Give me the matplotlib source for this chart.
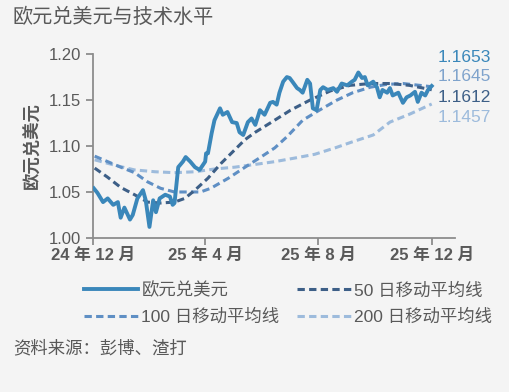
import matplotlib
matplotlib.use("Agg")
import matplotlib.pyplot as plt
import numpy as np

############
# DATA
############

# EUR/USD, day offsets from 2024-12-01
eur_days = [1, 5, 11, 16, 22, 27, 30, 34, 40, 43, 48, 54, 57, 61, 65, 68, 72, 78, 83, 86,
            88, 92, 97, 100, 105, 110, 115, 121, 122, 124, 128, 131, 137, 140, 145, 150, 155, 158, 162, 167,
            171, 175, 180, 185, 191, 194, 198, 201, 205, 209, 212, 215, 220, 223, 226, 231, 234, 237, 241, 245,
            248, 253, 259, 263, 268, 274, 279, 282, 286, 290, 293, 296, 302, 306, 309, 312, 317, 320, 323, 329,
            334, 338, 342, 347, 350, 354, 358, 361, 365]
eur_vals = [1.054, 1.049, 1.039, 1.043, 1.036, 1.039, 1.022, 1.033, 1.020, 1.025, 1.043, 1.052, 1.041, 1.012, 1.041, 1.028, 1.043, 1.047, 1.045, 1.036,
            1.038, 1.077, 1.083, 1.088, 1.083, 1.077, 1.074, 1.083, 1.092, 1.092, 1.114, 1.128, 1.141, 1.134, 1.137, 1.126, 1.125, 1.115, 1.112, 1.126,
            1.130, 1.123, 1.139, 1.134, 1.147, 1.148, 1.145, 1.158, 1.170, 1.175, 1.174, 1.170, 1.163, 1.161, 1.158, 1.172, 1.168, 1.141, 1.139, 1.161,
            1.164, 1.161, 1.163, 1.159, 1.168, 1.166, 1.170, 1.172, 1.180, 1.174, 1.175, 1.166, 1.170, 1.164, 1.153, 1.161, 1.158, 1.163, 1.155, 1.158,
            1.147, 1.153, 1.155, 1.159, 1.148, 1.158, 1.155, 1.161, 1.1653]

ma50_days = [2, 16, 30, 45, 59, 73, 88, 99, 110, 124, 138, 153, 164, 175, 191, 202, 213, 234, 256, 277, 299, 320, 341, 365]
ma50_vals = [1.076, 1.066, 1.055, 1.047, 1.039, 1.038, 1.039, 1.043, 1.052, 1.065, 1.081, 1.096, 1.107, 1.115, 1.125, 1.132, 1.139, 1.150, 1.160, 1.166, 1.168, 1.168, 1.166, 1.1612]

ma100_days = [2, 16, 30, 45, 59, 73, 88, 102, 116, 127, 146, 164, 181, 196, 209, 226, 244, 263, 280, 299, 316, 334, 352, 365]
ma100_vals = [1.089, 1.083, 1.077, 1.071, 1.061, 1.054, 1.050, 1.050, 1.050, 1.054, 1.065, 1.077, 1.088, 1.098, 1.110, 1.128, 1.139, 1.150, 1.158, 1.164, 1.167, 1.168, 1.166, 1.1645]

ma200_days = [2, 24, 45, 67, 88, 110, 131, 153, 175, 196, 218, 239, 261, 278, 302, 320, 342, 365]
ma200_vals = [1.085, 1.079, 1.074, 1.072, 1.071, 1.072, 1.075, 1.077, 1.080, 1.083, 1.087, 1.091, 1.098, 1.104, 1.112, 1.126, 1.135, 1.1457]

tick_days = [0, 121, 243, 365]
tick_labels = ["24 年 12 月", "25 年 4 月", "25 年 8 月", "25 年 12 月"]
y_ticks = [1.00, 1.05, 1.10, 1.15, 1.20]

end_labels = ["1.1653", "1.1645", "1.1612", "1.1457"]

############
# STYLE
############

c_eur = "#3a87ba"
c_50 = "#3d5f87"
c_100 = "#5f8fc4"
c_200 = "#9dbbdc"
c_lab100 = "#7fa3cc"
grey = "#595959"
bg = "#f4f4f4"

plt.rcParams['font.family'] = ['Liberation Sans', 'Noto Sans CJK SC', 'DejaVu Sans']

fig = plt.figure(figsize=(5.1, 3.92), dpi=100, facecolor=bg)
ax = fig.add_axes([0.182, 0.393, 0.710, 0.469], facecolor=bg)

dash = (0, (2.4, 1.4))
ax.plot(ma200_days, ma200_vals, color=c_200, lw=2.2, ls=dash, label="200 日移动平均线", zorder=2)
ax.plot(ma100_days, ma100_vals, color=c_100, lw=2.2, ls=dash, label="100 日移动平均线", zorder=3)
ax.plot(ma50_days, ma50_vals, color=c_50, lw=2.2, ls=dash, label="50 日移动平均线", zorder=4)
ax.plot(eur_days, eur_vals, color=c_eur, lw=2.8, label="欧元兑美元", zorder=5)

ax.set_xlim(0, 390)
ax.set_ylim(1.00, 1.20)
ax.set_yticks(y_ticks)
ax.set_yticklabels(["%.2f" % v for v in y_ticks])
ax.set_xticks(tick_days)
ax.set_xticklabels(tick_labels, fontweight="bold")

for s in ["top", "right"]:
    ax.spines[s].set_visible(False)
for s in ["left", "bottom"]:
    ax.spines[s].set_color("#8c8c8c")
    ax.spines[s].set_linewidth(1.3)
ax.tick_params(axis="both", direction="out", length=5, width=1.3, color="#8c8c8c",
               labelcolor=grey, labelsize=12)
ax.tick_params(axis="x", pad=2)

ax.set_ylabel("欧元兑美元", fontsize=12.5, color=grey, fontweight="bold", labelpad=6)

# end values at right
lab_cols = [c_eur, c_lab100, c_50, c_200]
lab_y = [1.1967, 1.1760, 1.1530, 1.1315]
for txt, yy, cc in zip(end_labels, lab_y, lab_cols):
    ax.text(371, yy, txt, color=cc, fontsize=12.5, ha="left", va="center", clip_on=False)

handles, labels = ax.get_legend_handles_labels()
order = [3, 1, 2, 0]
leg = fig.legend([handles[i] for i in order], [labels[i] for i in order],
                 loc="center", bbox_to_anchor=(0.565, 0.226), ncol=2, frameon=False,
                 fontsize=12.5, handlelength=3.1, handletextpad=0.2, columnspacing=1.0,
                 labelspacing=0.6)
for t in leg.get_texts():
    t.set_color(grey)

fig.text(0.025, 0.957, "欧元兑美元与技术水平", fontsize=14.5, color=grey, ha="left", va="center")
fig.text(0.025, 0.112, "资料来源：彭博、渣打", fontsize=12.5, color=grey, ha="left", va="center")

fig.savefig("out.png", dpi=100, facecolor=bg)
